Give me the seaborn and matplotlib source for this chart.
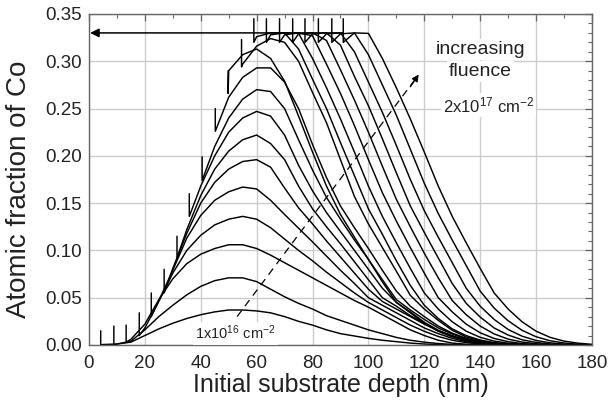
import matplotlib
matplotlib.use("Agg")
import matplotlib.pyplot as plt
from matplotlib.ticker import MultipleLocator, FormatStrFormatter
import pandas as pd
import seaborn as sns

# Depths (nm, initial substrate coordinate) at which the profiles are sampled
depth_grid = list(range(0, 185, 5))

# Fluence steps, in units of 1e16 cm^-2
fluence = list(range(1, 21))

# Receding surface position after each fluence step (nm)
surface_depth = [4.2, 8.9, 13.3, 18.0, 22.3, 26.9, 31.5, 35.9, 40.5, 45.2,
                 49.8, 54.6, 59.0, 63.5, 68.2, 72.9, 77.3, 82.1, 86.9, 91.0]
# Co fraction right at the surface and the top of the surface spike
surface_base = [0.0, 0.0, 0.003, 0.010, 0.030, 0.055, 0.092, 0.136, 0.174, 0.226,
                0.266, 0.294, 0.320, 0.320, 0.320, 0.320, 0.320, 0.320, 0.320, 0.320]
surface_peak = [0.015, 0.020, 0.021, 0.034, 0.055, 0.080, 0.115, 0.160, 0.199, 0.250,
                0.290, 0.323, 0.345, 0.345, 0.345, 0.345, 0.345, 0.345, 0.345, 0.345]

# Co fraction on depth_grid, starting at the first grid depth below the surface
profile_01 = [0.0005, 0.001, 0.003, 0.010, 0.017, 0.023, 0.028, 0.032, 0.035, 0.037,
              0.037, 0.036, 0.034, 0.030, 0.025, 0.021, 0.016, 0.012, 0.0095, 0.007,
              0.005, 0.0035, 0.002, 0.001, 0.0005, 0.0]
profile_02 = [0.001, 0.004, 0.016, 0.030, 0.042, 0.053, 0.062, 0.068, 0.071, 0.071,
              0.067, 0.059, 0.051, 0.044, 0.038, 0.031, 0.026, 0.021, 0.016, 0.012,
              0.008, 0.005, 0.003, 0.0015, 0.0006, 0.0002, 0.0]
profile_03 = [0.006, 0.022, 0.048, 0.070, 0.086, 0.096, 0.102, 0.106, 0.106, 0.102,
              0.095, 0.087, 0.079, 0.071, 0.063, 0.055, 0.047, 0.040, 0.032, 0.024,
              0.016, 0.010, 0.005, 0.002, 0.0008, 0.0002, 0.0]
profile_04 = [0.018, 0.046, 0.076, 0.100, 0.116, 0.127, 0.133, 0.136, 0.133, 0.124,
              0.112, 0.100, 0.089, 0.077, 0.066, 0.055, 0.045, 0.037, 0.029, 0.021,
              0.0145, 0.009, 0.005, 0.0025, 0.001, 0.0003, 0.0]
profile_05 = [0.047, 0.079, 0.113, 0.137, 0.153, 0.162, 0.167, 0.165, 0.153, 0.138,
              0.1235, 0.109, 0.094, 0.079, 0.065, 0.050, 0.042, 0.034, 0.026, 0.018,
              0.012, 0.007, 0.0035, 0.0015, 0.0005, 0.0]
profile_06 = [0.081, 0.118, 0.150, 0.172, 0.186, 0.194, 0.196, 0.188, 0.166, 0.145,
              0.128, 0.110, 0.093, 0.076, 0.059, 0.046, 0.038, 0.030, 0.022, 0.015,
              0.0095, 0.005, 0.0025, 0.001, 0.0003, 0.0]
profile_07 = [0.122, 0.158, 0.186, 0.205, 0.217, 0.222, 0.213, 0.196, 0.168, 0.144,
              0.125, 0.107, 0.088, 0.069, 0.050, 0.041, 0.031, 0.023, 0.015, 0.0095,
              0.005, 0.0025, 0.001, 0.0003, 0.0]
profile_08 = [0.168, 0.200, 0.225, 0.240, 0.247, 0.242, 0.222, 0.190, 0.163, 0.140,
              0.120, 0.100, 0.080, 0.060, 0.045, 0.035, 0.024, 0.0155, 0.0095, 0.0053,
              0.0025, 0.001, 0.0003, 0.0]
profile_09 = [0.210, 0.240, 0.260, 0.270, 0.268, 0.250, 0.217, 0.185, 0.156, 0.133,
              0.111, 0.0905, 0.069, 0.048, 0.037, 0.027, 0.018, 0.0115, 0.0065, 0.0033,
              0.0014, 0.0005, 0.0]
profile_10 = [0.262, 0.283, 0.293, 0.293, 0.278, 0.250, 0.212, 0.177, 0.147, 0.124,
              0.102, 0.079, 0.057, 0.041, 0.030, 0.020, 0.0125, 0.007, 0.0035, 0.0015,
              0.0005, 0.0]
profile_11 = [0.290, 0.307, 0.313, 0.303, 0.279, 0.242, 0.204, 0.168, 0.138, 0.114,
              0.0905, 0.0667, 0.045, 0.034, 0.023, 0.0145, 0.0085, 0.0045, 0.002, 0.0008,
              0.0002, 0.0]
profile_12 = [0.297, 0.316, 0.324, 0.320, 0.300, 0.267, 0.235, 0.196, 0.157, 0.128,
              0.103, 0.078, 0.0525, 0.038, 0.026, 0.0155, 0.0085, 0.0045, 0.002, 0.0008,
              0.0002, 0.0]
profile_13 = [0.326, 0.330, 0.330, 0.313, 0.281, 0.250, 0.214, 0.179, 0.144, 0.117,
              0.089, 0.063, 0.042, 0.028, 0.017, 0.0099, 0.0052, 0.0025, 0.001, 0.0003,
              0.0]
profile_14 = [0.328, 0.330, 0.3295, 0.303, 0.272, 0.239, 0.204, 0.168, 0.136, 0.108,
              0.081, 0.055, 0.038, 0.0245, 0.0146, 0.0081, 0.0041, 0.0019, 0.0007, 0.0001,
              0.0]
profile_15 = [0.328, 0.330, 0.327, 0.297, 0.266, 0.232, 0.196, 0.161, 0.131, 0.103,
              0.076, 0.050, 0.035, 0.022, 0.0129, 0.0069, 0.0035, 0.0015, 0.0005, 0.0]
profile_16 = [0.329, 0.330, 0.322, 0.291, 0.259, 0.225, 0.189, 0.154, 0.125, 0.097,
              0.071, 0.047, 0.032, 0.020, 0.0117, 0.0062, 0.0031, 0.0013, 0.0004, 0.0]
profile_17 = [0.329, 0.330, 0.317, 0.284, 0.253, 0.218, 0.182, 0.147, 0.119, 0.092,
              0.065, 0.044, 0.0295, 0.018, 0.0105, 0.0055, 0.0027, 0.0011, 0.0003, 0.0]
profile_18 = [0.329, 0.330, 0.310, 0.278, 0.246, 0.211, 0.175, 0.142, 0.114, 0.087,
              0.060, 0.041, 0.027, 0.0164, 0.0093, 0.0048, 0.0023, 0.0009, 0.0002, 0.0]
profile_19 = [0.329, 0.330, 0.307, 0.275, 0.243, 0.207, 0.171, 0.139, 0.111, 0.084,
              0.057, 0.039, 0.0256, 0.0155, 0.0087, 0.0045, 0.0021, 0.0008, 0.0001]
profile_20 = [0.330, 0.3295, 0.303, 0.272, 0.239, 0.204, 0.168, 0.136, 0.108, 0.081,
              0.055, 0.038, 0.0245, 0.0146, 0.0081, 0.0041, 0.0019, 0.0007]

profiles = [profile_01, profile_02, profile_03, profile_04, profile_05,
            profile_06, profile_07, profile_08, profile_09, profile_10,
            profile_11, profile_12, profile_13, profile_14, profile_15,
            profile_16, profile_17, profile_18, profile_19, profile_20]

# Saturation level (CoSi2 stoichiometry) marked by the arrow
saturation = 0.33

# Long-form table: each profile begins with its surface spike
rows = []
for f, s, base, top, prof in zip(fluence, surface_depth, surface_base,
                                 surface_peak, profiles):
    order = 0
    rows.append((f, order, s, top)); order += 1
    rows.append((f, order, s, base)); order += 1
    depths = [d for d in depth_grid if d > s][:len(prof)]
    for d, v in zip(depths, prof):
        rows.append((f, order, d, v)); order += 1
df = pd.DataFrame(rows, columns=["fluence", "order", "depth", "fraction"])

sns.set_theme(style="white")
plt.rcParams["font.family"] = ["Liberation Sans", "DejaVu Sans"]
plt.rcParams["mathtext.default"] = "regular"

fig = plt.figure(figsize=(6.09, 4.01), dpi=100)
ax = fig.add_axes([0.1461, 0.1397, 0.8259, 0.8254])

sns.lineplot(data=df, x="depth", y="fraction", units="fluence", estimator=None,
             sort=False, color="black", linewidth=1.05, ax=ax, legend=False)

# Saturation arrow pointing back to the surface
ax.annotate("", xy=(0.4, saturation), xytext=(surface_depth[-1], saturation),
            arrowprops=dict(arrowstyle="-|>", color="black", lw=1.1,
                            mutation_scale=13, shrinkA=0, shrinkB=0))

# Dashed "increasing fluence" arrow
arrow_start = (53.0, 0.030)
arrow_end = (118.0, 0.286)
ax.plot([arrow_start[0], 116.5], [arrow_start[1], 0.280], color="black",
        lw=0.9, ls=(0, (6, 4.5)))
ax.annotate("", xy=arrow_end, xytext=(115.0, 0.273),
            arrowprops=dict(arrowstyle="-|>", color="black", lw=0.9,
                            mutation_scale=10, shrinkA=0, shrinkB=0))

box = dict(facecolor="white", edgecolor="none", pad=1.5)
ax.text(140.2, 0.3125, "increasing", ha="center", va="center", fontsize=14,
        color="#222222", bbox=box)
ax.text(140.2, 0.289, "fluence", ha="center", va="center", fontsize=14,
        color="#222222", bbox=box)
ax.text(143.0, 0.2535, "2x10$^{17}$ cm$^{-2}$", ha="center", va="center",
        fontsize=12, color="#222222", bbox=box)
ax.text(52.5, 0.0125, "1x10$^{16}$ cm$^{-2}$", ha="center", va="center",
        fontsize=10.5, color="#222222", bbox=box)

ax.set_xlim(0, 180)
ax.set_ylim(0, 0.35)
ax.xaxis.set_major_locator(MultipleLocator(20))
ax.xaxis.set_minor_locator(MultipleLocator(10))
ax.yaxis.set_major_locator(MultipleLocator(0.05))
ax.yaxis.set_minor_locator(MultipleLocator(0.01))
ax.yaxis.set_major_formatter(FormatStrFormatter("%.2f"))

ax.set_axisbelow(True)
ax.grid(True, which="major", color="#cccccc", linewidth=1.0)
for sp in ax.spines.values():
    sp.set_color("#666666")
    sp.set_linewidth(1.0)
ax.tick_params(which="both", direction="in", top=True, right=True,
               color="#666666", labelsize=13.5, labelcolor="#222222")
ax.tick_params(axis="x", which="major", pad=7)
ax.tick_params(axis="y", which="major", pad=5)
ax.tick_params(which="major", length=5, width=0.9)
ax.tick_params(which="minor", length=3, width=0.8)

ax.set_xlabel("Initial substrate depth (nm)", fontsize=18, color="#222222",
              labelpad=1)
ax.set_ylabel("Atomic fraction of Co", fontsize=20, color="#222222")
ax.yaxis.set_label_coords(-0.113, 0.47)

fig.savefig("out.png", dpi=100, facecolor="white")
